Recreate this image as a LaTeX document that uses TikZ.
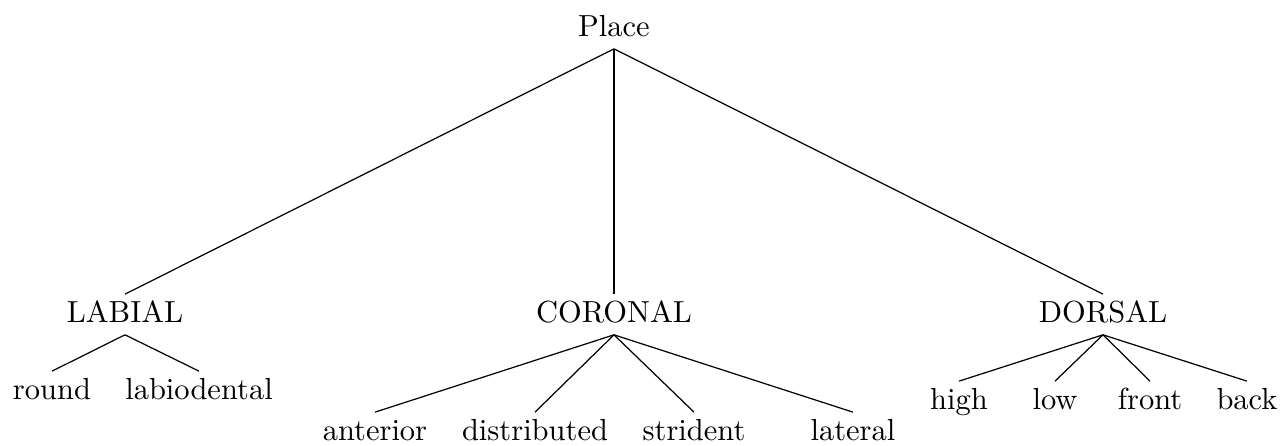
\documentclass[tikz,border=0pt]{standalone}
\begin{document}
\begin{tikzpicture}[x=0.328pt,y=-0.328pt,
  lbl/.style={anchor=base,inner xsep=1pt,inner ysep=2pt,text height=6.94pt,text depth=2pt},
  edge/.style={line width=0.4pt}]
\useasboundingbox (0,0) rectangle (1282,445);
\node[lbl] (place) at (614,36) {Place};
\node[lbl] (labial) at (125,322) {LABIAL};
\node[lbl] (coronal) at (614,322) {CORONAL};
\node[lbl] (dorsal) at (1103,322) {DORSAL};
\node[lbl] (round) at (52,399) {round};
\node[lbl] (labiodental) at (199,399) {labiodental};
\node[lbl] (anterior) at (375,440) {anterior};
\node[lbl] (distributed) at (535,440) {distributed};
\node[lbl] (strident) at (694,440) {strident};
\node[lbl] (lateral) at (853,440) {lateral};
\node[lbl] (high) at (959,409) {high};
\node[lbl] (low) at (1055,409) {low};
\node[lbl] (front) at (1150,409) {front};
\node[lbl] (back) at (1247,409) {back};
\foreach \c in {labial,coronal,dorsal} \draw[edge] (place.south) -- (\c.north);
\foreach \c in {round,labiodental} \draw[edge] (labial.south) -- (\c.north);
\foreach \c in {anterior,distributed,strident,lateral} \draw[edge] (coronal.south) -- (\c.north);
\foreach \c in {high,low,front,back} \draw[edge] (dorsal.south) -- (\c.north);
\end{tikzpicture}
\end{document}
